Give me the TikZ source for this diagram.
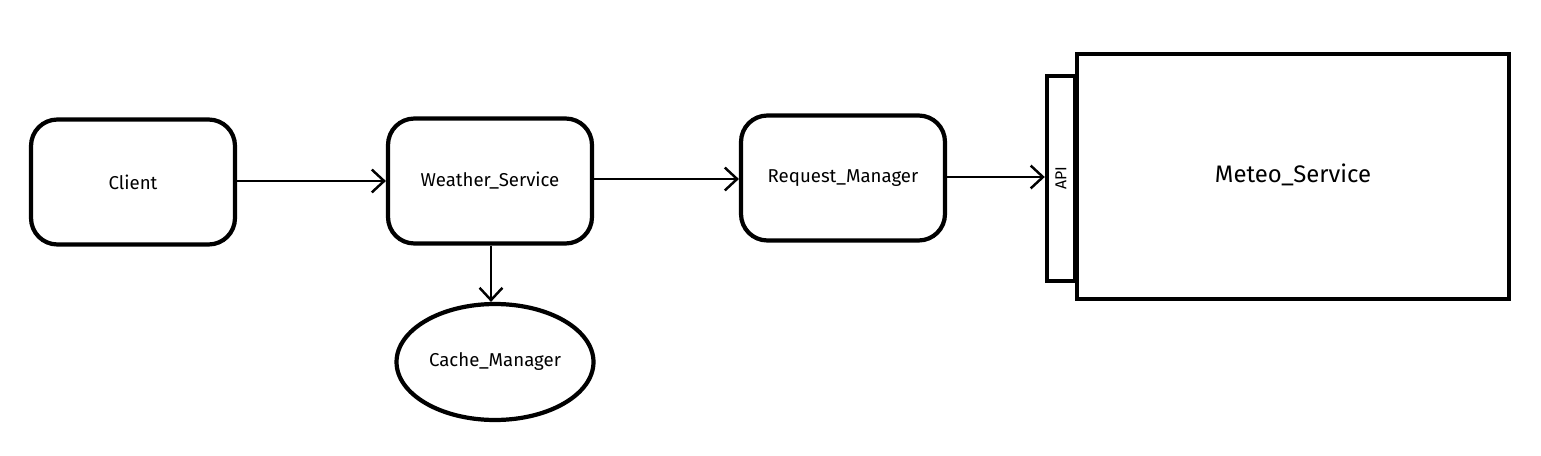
\documentclass[tikz,border=0pt]{standalone}
\usepackage{fontspec}
\setmainfont{Fira Sans}
\usetikzlibrary{arrows.meta,shapes,positioning}

\begin{document}
\begin{tikzpicture}[x=0.02cm,y=-0.02cm,->,>={Straight Barb[length=7pt,width=13pt]},semithick,
  box/.style={draw,rectangle,rounded corners=15pt,line width=2.4pt,minimum width=4.08cm,minimum height=2.5cm,font=\fontsize{10.6}{12}\selectfont},
  oval/.style={draw,ellipse,inner sep=0pt,line width=2.4pt,minimum width=3.94cm,minimum height=2.32cm,font=\fontsize{10.6}{12}\selectfont},
  plain/.style={draw,rectangle,line width=2.4pt}]
\useasboundingbox (0,0) rectangle (1541,456);

\node[box](client) at (133,182) {Client};
\node[box](weather) at (490,181) {Weather\_Service};
\node[box](request) at (843,178) {Request\_Manager};
\node[oval](cache) at (495,362) {Cache\_Manager};

\node[plain,minimum width=8.64cm,minimum height=4.9cm,font=\fontsize{13.6}{16}\selectfont,text depth=0pt](meteo) at (1293,176.5) {\raisebox{4pt}{Meteo\_Service}};
\node[plain,minimum width=0.56cm,minimum height=4.1cm,anchor=east](api) at (1077,178.5) {};
\node[rotate=90,font=\small](apitext) at (api.center) {API};

\draw[line width=1.4pt](client.east |- 0,181) -- (weather.west |- 0,181);
\draw[line width=1.4pt](weather.east |- 0,179) -- (request.west |- 0,179);
\draw[line width=1.4pt](request.east |- 0,177) -- (api.west |- 0,177);
\draw[line width=1.4pt](weather.south -| 491,0) -- (cache.north -| 491,0);
\end{tikzpicture}
\end{document}
